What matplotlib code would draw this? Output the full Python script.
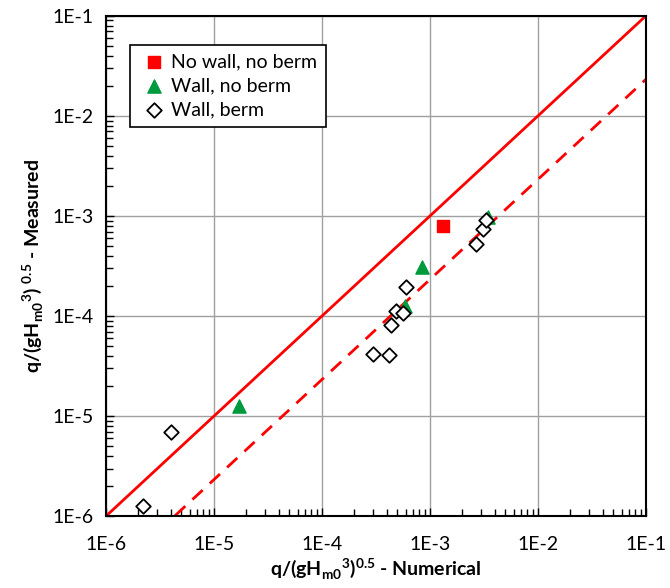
import numpy as np
import matplotlib.pyplot as plt
from matplotlib.ticker import LogLocator, FuncFormatter

plt.rcParams['font.family'] = ['Lato', 'DejaVu Sans']

# No wall, no berm
nwnb_x = [1.32e-3]
nwnb_y = [7.9e-4]

# Wall, no berm
wnb_x = [1.72e-5, 5.86e-4, 8.45e-4, 3.46e-3]
wnb_y = [1.27e-5, 1.26e-4, 3.1e-4, 9.7e-4]

# Wall, berm
wb_x = [2.2e-6, 4.0e-6, 3.0e-4, 4.2e-4, 4.38e-4, 4.9e-4, 5.65e-4, 6.07e-4,
        2.7e-3, 3.11e-3, 3.33e-3]
wb_y = [1.27e-6, 6.9e-6, 4.2e-5, 4.1e-5, 8.07e-5, 1.13e-4, 1.08e-4, 1.96e-4,
        5.25e-4, 7.36e-4, 9.1e-4]

line_x = [1e-6, 1e-1]
dash_factor = 0.232

fig = plt.figure(figsize=(6.7, 5.88), dpi=100)
ax = fig.add_axes([0.158, 0.122, 0.806, 0.851])

ax.set_xscale('log')
ax.set_yscale('log')
ax.set_xlim(1e-6, 1e-1)
ax.set_ylim(1e-6, 1e-1)

ax.grid(True, which='major', color='#a0a0a0', linewidth=1)
ax.set_axisbelow(True)

lx = np.array(line_x)
ax.plot(lx, lx, color='#ff0000', linewidth=2)
ax.plot(lx, lx * dash_factor, color='#ff0000', linewidth=2, dashes=(5, 3.5))

ax.scatter(nwnb_x, nwnb_y, marker='s', s=70, color='#ff0000', zorder=3,
           label='No wall, no berm')
ax.scatter(wnb_x, wnb_y, marker='^', s=90, color='#009a3e', zorder=3,
           label='Wall, no berm')
ax.scatter(wb_x, wb_y, marker='D', s=55, facecolor='white', edgecolor='black',
           linewidth=1.3, zorder=4, label='Wall, berm')

fmt = FuncFormatter(lambda v, p: '1E%d' % int(round(np.log10(v))))
for axis in (ax.xaxis, ax.yaxis):
    axis.set_major_locator(LogLocator(base=10, numticks=10))
    axis.set_minor_locator(LogLocator(base=10, subs=np.arange(2, 10), numticks=10))
    axis.set_major_formatter(fmt)
ax.tick_params(which='both', direction='in', labelsize=14, color='black')
ax.tick_params(which='major', length=6, width=1)
ax.tick_params(which='minor', length=5, width=1)
ax.tick_params(axis='x', pad=14)
ax.tick_params(axis='y', pad=9)

for s in ax.spines.values():
    s.set_linewidth(1.5)

ax.set_xlabel(r'q/(gH$_{\mathregular{m0}}$$^{\mathregular{3}}$)$^{\mathregular{0.5}}$ - Numerical',
              fontsize=14, fontweight='bold', labelpad=3)
ax.set_ylabel(r'q/(gH$_{\mathregular{m0}}$$^{\mathregular{3}}$) $^{\mathregular{0.5}}$ - Measured',
              fontsize=14, fontweight='bold', labelpad=5)

leg = ax.legend(loc='upper left', bbox_to_anchor=(0.026, 0.962), fontsize=14,
                frameon=True, fancybox=False, edgecolor='black',
                handletextpad=0.1, handlelength=1.6, borderpad=0.45,
                labelspacing=0.35, framealpha=1)
leg.get_frame().set_linewidth(1.2)

fig.savefig('out.png', dpi=100)
